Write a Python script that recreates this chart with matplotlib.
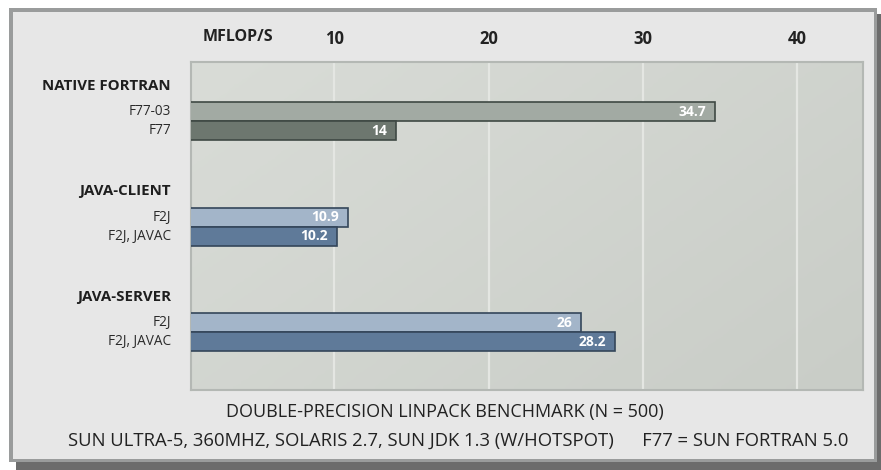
import numpy as np
import matplotlib
matplotlib.use("Agg")
from matplotlib import pyplot as plt
from matplotlib.patches import Rectangle

# data
groups = ["NATIVE FORTRAN", "JAVA-CLIENT", "JAVA-SERVER"]
labels = [["F77-03", "F77"], ["F2J", "F2J, JAVAC"], ["F2J", "F2J, JAVAC"]]
values = [[34.7, 14], [10.9, 10.2], [26, 28.2]]
colors = [["#a2aaa3", "#6d776f"], ["#a3b5c9", "#5f7a99"], ["#a3b5c9", "#5f7a99"]]
edges = ["#3f4944", "#34465a", "#34465a"]
ticks = [10, 20, 30, 40]

plt.rcParams['font.family'] = ['Open Sans', 'DejaVu Sans']

W, H = 881, 470
fig = plt.figure(figsize=(W / 100, H / 100), dpi=100)
fig.patch.set_facecolor("white")

# outer panel with drop shadow (pixel coords, drawn behind the axes)
def px_rect(x0, y0, x1, y1, **kw):
    fig.patches.append(Rectangle((x0 / W, 1 - y1 / H), (x1 - x0) / W, (y1 - y0) / H,
                                 transform=fig.transFigure, figure=fig, zorder=-5, **kw))

px_rect(16, 14, 881, 470, facecolor="#6c6c6c", edgecolor="none")
px_rect(9, 8, 877, 462, facecolor="#9a9c9c", edgecolor="none")
px_rect(13, 12, 874, 459, facecolor="#e7e7e7", edgecolor="none")

ax = fig.add_axes([191 / W, 1 - 390 / H, 672 / W, 328 / H])
ax.set_facecolor("#cfd3ce")

# faint gradient over the plot area
grad = np.linspace(0, 1, 256)[None, :] * 0.6 + np.linspace(0, 1, 64)[:, None] * 0.4
ax.imshow(grad, cmap=matplotlib.colors.LinearSegmentedColormap.from_list(
    "bg", ["#d9dcd7", "#c9cdc7"]), extent=[0, 1, 0, 1], transform=ax.transAxes,
    aspect="auto", zorder=0)

ax.set_xlim(0.71, 44.26)
ax.set_ylim(17.26, 0)

for t in ticks:
    ax.axvline(t, color="#e4e6e2", lw=1.6, zorder=1)

row = 1.0
bar_h = 1.0
for gi, (g, labs, vals, cols) in enumerate(zip(groups, labels, values, colors)):
    base = 2.63 + 5.55 * gi
    ax.text(-0.6, base - 1.37, g, ha="right", va="center", fontsize=10.8,
            fontweight="bold", color="#1e1e1e", clip_on=False)
    for bi, (lab, v, c) in enumerate(zip(labs, vals, cols)):
        y = base + bi * row
        ax.barh(y, v, height=bar_h, left=0, color=c, edgecolor=edges[gi], lw=1.2, zorder=3)
        ax.text(-0.6, y, lab, ha="right", va="center", fontsize=9.8, color="#2a2a2a",
                clip_on=False)
        ax.text(v - 0.6, y, f"{v:g}", ha="right", va="center", fontsize=10,
                fontweight="bold", color="white", zorder=4)

ax.xaxis.tick_top()
ax.set_xticks(ticks)
ax.set_xticklabels([str(t) for t in ticks], fontsize=12, fontweight="bold", color="#222222")
ax.tick_params(axis="x", length=0, pad=10)
ax.set_yticks([])
for s in ax.spines.values():
    s.set_color("#b4b8b4")
    s.set_linewidth(1.5)

fig.text(238 / W, 1 - 37 / H, "MFLOP/S", ha="center", va="center", fontsize=11.5,
         fontweight="bold", color="#222222")
fig.text(445 / W, 1 - 412 / H, "DOUBLE-PRECISION LINPACK BENCHMARK (N = 500)",
         ha="center", va="center", fontsize=13, color="#222222")
fig.text(458 / W, 1 - 441 / H,
         "SUN ULTRA-5, 360MHZ, SOLARIS 2.7, SUN JDK 1.3 (W/HOTSPOT)      F77 = SUN FORTRAN 5.0",
         ha="center", va="center", fontsize=13.3, color="#222222")

fig.savefig("out.png", dpi=100)
